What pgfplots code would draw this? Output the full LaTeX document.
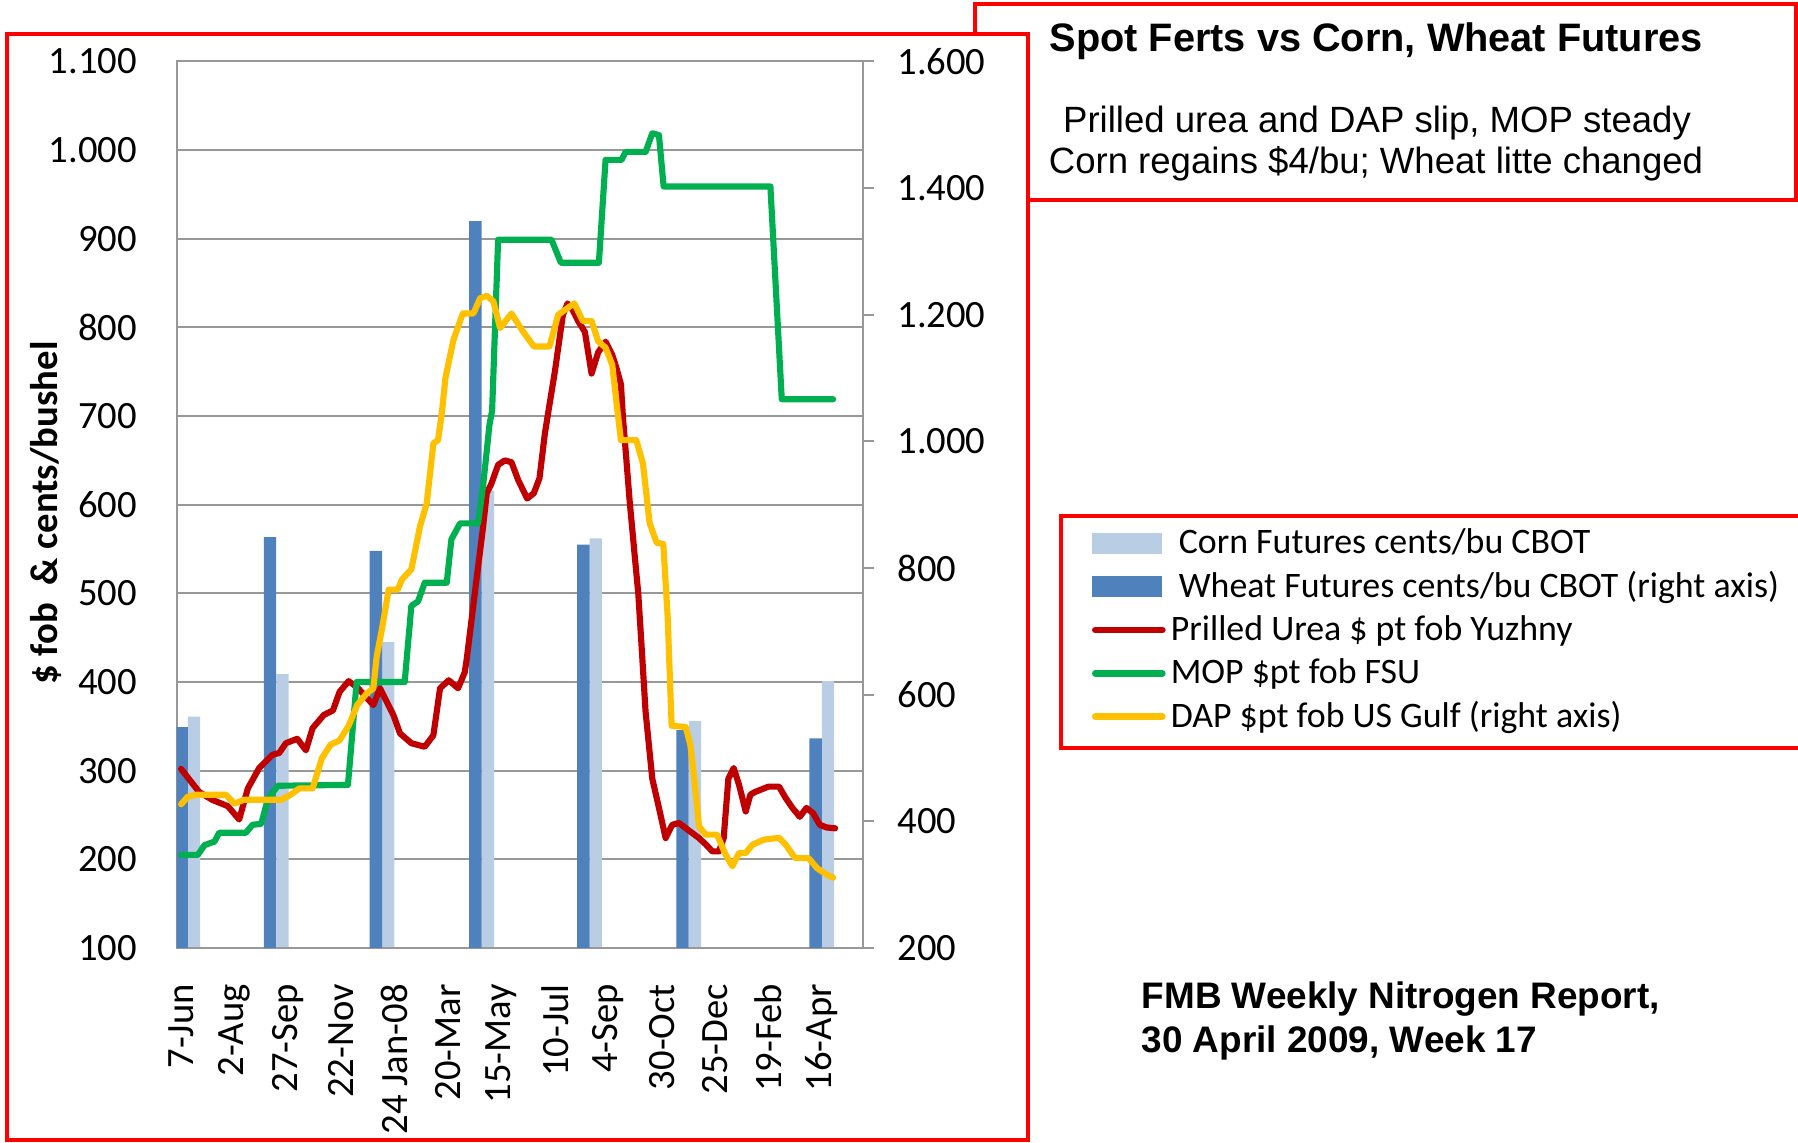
\documentclass[border=0pt]{standalone}
\usepackage{fontspec}
\setmainfont{Carlito}
\newfontfamily\arial{Liberation Sans}
\usepackage{pgfplots}
\pgfplotsset{compat=1.18}
\definecolor{urea}{HTML}{C00000}
\definecolor{mop}{HTML}{00B050}
\definecolor{dap}{HTML}{FFC000}
\definecolor{wheat}{HTML}{4F81BD}
\definecolor{corn}{HTML}{B9CDE5}
\definecolor{gridgray}{HTML}{989898}
\definecolor{boxred}{HTML}{FF0000}
\pgfplotsset{
  base/.style={
    scale only axis, width=68.6mm, height=88.65mm,
    at={(17.67mm,19.5mm)}, anchor=south west,
    xmin=-0.66, xmax=102.13,
    tick label style={font=\fontsize{11}{13}\selectfont, inner sep=0pt},
    /pgf/number format/1000 sep={.},
    /pgf/number format/assume math mode=true,
  },
  lineplot/.style={line width=1.75pt, line join=round, line cap=round},
}
\begin{document}
\begin{tikzpicture}
\path[use as bounding box] (0,0) rectangle (179.8mm,114.3mm);
\draw[boxred, line width=0.35mm] (97.5mm,94.3mm) rectangle (179.6mm,113.9mm);
\draw[boxred, line width=0.35mm, fill=white] (0.7mm,0.3mm) rectangle (102.8mm,110.9mm);
\draw[boxred, line width=0.35mm] (106.1mm,39.5mm) rectangle (182mm,62.7mm);

\node[font=\arial\bfseries\fontsize{11.3}{13}\selectfont, anchor=base west, inner sep=0pt] at (104.9mm,109.1mm) {Spot Ferts vs Corn, Wheat Futures};
\node[font=\arial\fontsize{10.4}{12}\selectfont, anchor=base, inner sep=0pt] at (137.7mm,101.0mm) {Prilled urea and DAP slip, MOP steady};
\node[font=\arial\fontsize{10.4}{12}\selectfont, anchor=base, inner sep=0pt] at (137.6mm,96.9mm) {Corn regains \$4/bu; Wheat litte changed};
\node[font=\arial\bfseries\fontsize{10.5}{12}\selectfont, anchor=base west, inner sep=0pt] at (114.1mm,13.4mm) {FMB Weekly Nitrogen Report,};
\node[font=\arial\bfseries\fontsize{10.5}{12}\selectfont, anchor=base west, inner sep=0pt] at (114.1mm,9.0mm) {30 April 2009, Week 17};
\node[font=\bfseries\fontsize{11}{13}\selectfont, rotate=90, inner sep=0pt] at (4.6mm,63.0mm) {\$ fob\ \ \& cents/bushel};

% left scale: grid, corn bars
\begin{axis}[base, ymin=100, ymax=1100, ytick={100,200,...,1100},
  ymajorgrids, grid style={gridgray, line width=0.2mm},
  axis line style={gridgray, line width=0.2mm},
  major tick length=0pt,
  xtick={0,8,...,96},
  xticklabels={7-Jun,2-Aug,27-Sep,22-Nov,24 Jan-08,20-Mar,15-May,10-Jul,4-Sep,30-Oct,25-Dec,19-Feb,16-Apr},
  xticklabel style={rotate=90, anchor=east},
  xticklabel shift=3.55mm,
  yticklabel style={anchor=east},
  yticklabel shift=3.9mm,
]
\addplot[ybar, bar width=1.85, bar shift=0pt, fill=corn, draw=none] coordinates {
(1.93,361) (15.19,409) (31.04,445) (45.96,616) (62.13,562) (76.99,356) (96.93,401)};
\end{axis}

% right scale: wheat bars and right axis
\begin{axis}[base, ymin=200, ymax=1600, ytick={200,400,...,1600},
  axis line style={gridgray, line width=0.2mm},
  xtick=\empty, ytick pos=right, yticklabel pos=right,
  tick align=outside, major tick length=1.15mm,
  tick style={gridgray, line width=0.2mm},
  yticklabel style={anchor=west},
  yticklabel shift=2.25mm,
]
\addplot[ybar, bar width=1.85, bar shift=0pt, fill=wheat, draw=none] coordinates {
(0.08,549) (13.33,849) (29.19,827) (44.1,1348) (60.28,837) (75.13,544) (95.07,531)};
\end{axis}

% left scale lines
\begin{axis}[base, ymin=100, ymax=1100, hide axis]
\addplot[urea, lineplot] coordinates {
(0,302) (2.7,276) (4.7,267) (7.0,260) (8.7,245) (10.0,280) (11.7,303) (13.7,318) (14.7,320) (15.7,331) (17.4,336) (18.7,323) (19.7,348) (21.4,363) (22.75,368) (23.75,389) (25.1,401) (26.4,394) (28.8,374) (29.8,393) (31.8,363) (32.8,342) (34.5,331) (36.5,327) (37.8,340) (38.8,393) (40.1,402) (41.5,393) (42.5,411) (42.8,426) (44.2,512) (45.2,572) (45.8,613) (46.5,624) (47.5,645) (48.5,650) (49.5,648) (50.5,628) (51.85,607) (52.85,613) (53.7,630) (54.5,680) (55.05,706) (56.0,750) (57.2,814) (57.9,827) (58.5,822) (59.5,807) (60.5,795) (61.5,748) (62.5,772) (63.6,784) (64.6,769) (65.2,755) (65.9,736) (66.2,699) (66.6,662) (67.2,605) (68.0,540) (68.5,500) (69.0,440) (69.6,366) (70.6,291) (71.6,258) (72.6,224) (73.6,239) (74.6,241) (76.0,233) (77.6,224) (78.6,217) (79.6,209) (80.6,209) (81.3,224) (82.0,291) (82.8,303) (83.6,284) (84.6,254) (85.3,273) (86.0,276) (88.0,282) (89.6,282) (90.6,269) (91.6,258) (92.7,248) (93.7,258) (94.7,252) (95.7,239) (96.7,236) (98.0,235)};
\addplot[mop, lineplot] coordinates {
(0,205) (2.5,205) (3.5,216) (5.0,220) (5.7,230) (9.7,230) (10.7,239) (12.0,240) (13.0,268) (14.5,283) (25.0,284) (26.3,400) (33.5,400) (34.5,486) (35.5,491) (36.5,512) (39.8,512) (40.5,561) (41.8,579) (44.5,579) (45.3,625) (46.2,690) (46.6,706) (47.5,899) (55.5,899) (56.9,873) (62.6,873) (63.6,989) (66.0,989) (66.6,998) (69.6,998) (70.6,1019) (71.6,1017) (72.3,959) (88.3,959) (90.0,719) (97.7,719)};
\end{axis}

% right scale line and legend
\begin{axis}[base, ymin=200, ymax=1600, hide axis,
  legend style={at={(1.3337,0.4716)}, anchor=north west, draw=none, fill=none,
    inner sep=0pt, outer sep=0pt, font=\fontsize{10.2}{12}\selectfont,
    row sep=1.03mm, column sep=0pt,
    nodes={inner sep=0pt, text height=2.4mm, text depth=0.9mm}},
  legend cell align=left,
]
\addlegendimage{legend image code/.code={\fill[corn] (0mm,-0.67mm) rectangle (6.9mm,1.27mm); \path (7.54mm,0mm);}}
\addlegendimage{legend image code/.code={\fill[wheat] (0mm,-0.67mm) rectangle (6.9mm,1.27mm); \path (7.54mm,0mm);}}
\addlegendimage{legend image code/.code={\draw[urea, line width=1.9pt, line cap=round] (0.3mm,0.3mm) -- (7.0mm,0.3mm); \path (7.54mm,0mm);}}
\addlegendimage{legend image code/.code={\draw[mop, line width=1.9pt, line cap=round] (0.3mm,0.3mm) -- (7.0mm,0.3mm); \path (7.54mm,0mm);}}
\addplot[dap, lineplot, legend image code/.code={\draw[dap, line width=1.9pt, line cap=round] (0.3mm,0.3mm) -- (7.0mm,0.3mm); \path (7.54mm,0mm);}] coordinates {
(0,427) (1.0,439) (2.35,442) (6.7,442) (8.0,428) (9.4,434) (15.0,434) (16.4,442) (17.7,452) (19.7,452) (21.1,500) (22.4,521) (23.75,528) (25.1,551) (26.4,584) (27.8,602) (28.8,610) (29.3,660) (30.1,704) (31.1,766) (32.45,766) (33.1,782) (34.5,798) (35.8,866) (36.8,902) (37.8,997) (38.5,1002) (39.1,1048) (39.6,1100) (40.8,1160) (42.2,1202) (43.8,1202) (44.8,1226) (45.8,1230) (46.8,1221) (47.8,1179) (49.5,1202) (51.2,1174) (52.85,1150) (55.2,1150) (56.5,1200) (58.9,1218) (60.2,1190) (61.5,1190) (62.5,1158) (63.6,1148) (64.6,1121) (65.2,1065) (65.9,1002) (68.2,1002) (69.2,965) (70.2,871) (71.25,840) (72.25,838) (72.9,724) (73.5,551) (75.6,549) (76.3,521) (76.9,467) (77.6,392) (78.6,379) (80.3,379) (81.6,347) (82.6,329) (83.6,350) (84.6,350) (85.6,363) (87.3,371) (89.6,374) (90.6,363) (92.0,342) (94.0,342) (95.3,326) (96.7,316) (97.7,311)};
\legend{\hspace{0.8mm}Corn Futures cents/bu CBOT, \hspace{0.8mm}Wheat Futures cents/bu CBOT (right axis), Prilled Urea \$ pt fob Yuzhny, MOP \$pt fob FSU, DAP \$pt fob US Gulf (right axis)}
\end{axis}
\end{tikzpicture}
\end{document}
